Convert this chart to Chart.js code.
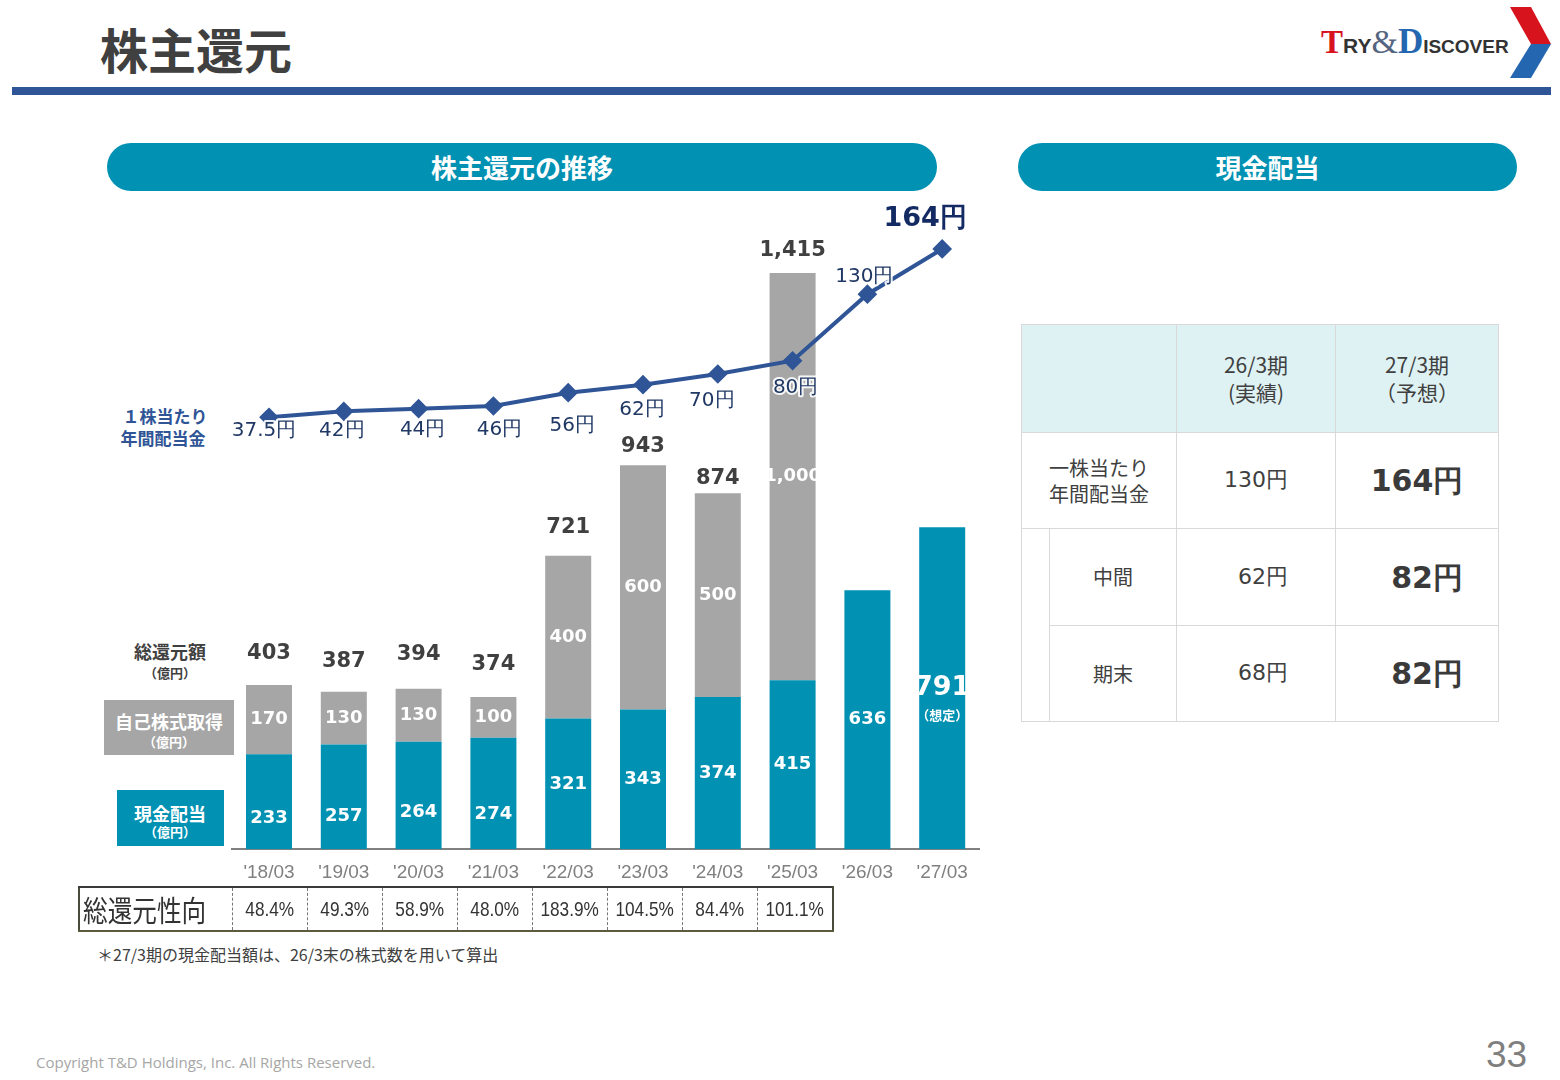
<!DOCTYPE html>
<html>
<head>
<meta charset="utf-8">
<script src="https://cdn.jsdelivr.net/npm/chart.js@4.4.1/dist/chart.umd.min.js"></script>
<style>
  body { margin: 0; width: 1560px; height: 1080px; position: relative; background: #fff; overflow: hidden;
         font-family: "Noto Sans CJK JP", sans-serif; color: #404040; }
  .abs { position: absolute; }
  .pill { position: absolute; top: 143px; height: 48px; border-radius: 24px; background: #0091b3; color: #fff;
          font-weight: 700; font-size: 26px; line-height: 48px; text-align: center; }
  .ctext { position: absolute; transform: translate(-50%, -50%); white-space: nowrap; font-weight: 700; }
  #chartBox { position: absolute; left: 100px; top: 190px; width: 900px; height: 720px; }
  #payout { position: absolute; left: 78px; top: 886px; border-collapse: collapse; border: 2px solid #4a4a3a;
            border-top-color: #3a3a3a; border-bottom-color: #5c5c3c; }
  #payout td { height: 40px; padding: 0; text-align: center; font-family: "Liberation Sans", sans-serif;
               font-size: 21px; color: #333; border-left: 1px dashed #777; width: 74px; }
  #payout td span { display: inline-block; transform: scaleX(0.82); transform-origin: center; }
  #payout td.lbl { width: 152px; text-align: left; border-left: none; font-family: "Noto Sans CJK JP", sans-serif; }
  #payout td.lbl span { font-size: 29px; transform: scaleX(0.85); transform-origin: left center; margin-left: 3px; }
  #divTable { position: absolute; left: 1021px; top: 324px; border-collapse: collapse; border: 1px solid #d9d9d9; }
  #divTable td { border: 1px solid #d9d9d9; text-align: center; padding: 0; color: #404040; font-size: 20px; line-height: 1.3; }
  #divTable tr.head td { background: #dff2f3; height: 107px; font-size: 21px; }
  #divTable td.big { font-family: "DejaVu Sans", sans-serif; font-weight: 700; font-size: 30px; color: #3a3a3a; }
  #divTable td.num { font-family: "DejaVu Sans", sans-serif; font-size: 22px; }
</style>
</head>
<body>
<div class="abs" style="left:100px;top:19px;font-size:48px;font-weight:700;color:#404040;line-height:58px;">株主還元</div>
<div class="abs" style="left:12px;top:87px;width:1539px;height:8px;background:#2f5597;"></div>

<!-- logo -->
<div class="abs" style="left:1321px;top:22px;height:40px;white-space:nowrap;font-weight:700;color:#333;">
  <span style="font-family:'Liberation Serif',serif;font-size:33px;color:#d7141e;">T</span><span style="font-family:'Liberation Sans',sans-serif;font-size:21px;">RY</span><span style="font-family:'Liberation Serif',serif;font-weight:400;font-size:34px;color:#55657f;">&amp;</span><span style="font-family:'Liberation Serif',serif;font-size:35px;color:#2566b0;">D</span><span style="font-family:'Liberation Sans',sans-serif;font-size:19px;">ISCOVER</span>
</div>
<svg class="abs" style="left:1500px;top:0" width="60" height="90">
  <polygon points="10,7 31,7 51,44 31,44" fill="#d7141e"/>
  <polygon points="31,44 51,44 31,78 10,78" fill="#2566b0"/>
</svg>

<div class="pill" style="left:107px;width:830px;">株主還元の推移</div>
<div class="pill" style="left:1018px;width:499px;">現金配当</div>

<!-- left legend -->
<div class="ctext" style="left:165px;top:415px;font-size:17px;color:#2f5597;">１株当たり</div>
<div class="ctext" style="left:163px;top:437px;font-size:17px;color:#2f5597;">年間配当金</div>
<div class="ctext" style="left:170px;top:651px;font-size:18px;color:#404040;">総還元額</div>
<div class="ctext" style="left:170px;top:672px;font-size:13px;color:#404040;">（億円）</div>
<div class="abs" style="left:104px;top:700px;width:130px;height:55px;background:#a6a6a6;"></div>
<div class="ctext" style="left:169px;top:721px;font-size:18px;color:#fff;">自己株式取得</div>
<div class="ctext" style="left:169px;top:741px;font-size:13px;color:#fff;">（億円）</div>
<div class="abs" style="left:117px;top:790px;width:107px;height:56px;background:#0091b3;"></div>
<div class="ctext" style="left:170px;top:813px;font-size:18px;color:#fff;">現金配当</div>
<div class="ctext" style="left:170px;top:831px;font-size:13px;color:#fff;">（億円）</div>

<div id="chartBox"><canvas id="combo"></canvas></div>

<table id="payout"><tr id="payoutRow"><td class="lbl"><span>総還元性向</span></td></tr></table>

<div class="abs" style="left:97px;top:942px;font-size:16px;color:#404040;">＊27/3期の現金配当額は、26/3末の株式数を用いて算出</div>

<table id="divTable">
  <tr class="head">
    <td colspan="2" style="width:154px;"></td>
    <td style="width:158px;">26/3期<br>(実績)</td>
    <td style="width:162px;">27/3期<br>（予想）</td>
  </tr>
  <tr style="height:96px;">
    <td colspan="2">一株当たり<br>年間配当金</td>
    <td class="num">130円</td>
    <td class="big">164円</td>
  </tr>
  <tr style="height:97px;">
    <td rowspan="2" style="width:27px;border-top:1px solid #d9d9d9;border-bottom:none;"></td>
    <td style="width:126px;">中間</td>
    <td class="num" style="padding-left:14px;">62円</td>
    <td class="big" style="padding-left:20px;">82円</td>
  </tr>
  <tr style="height:96px;">
    <td style="width:126px;">期末</td>
    <td class="num" style="padding-left:14px;">68円</td>
    <td class="big" style="padding-left:20px;">82円</td>
  </tr>
</table>

<div class="abs" style="left:36px;top:1052px;font-family:'Open Sans',sans-serif;font-size:15px;color:#a6a6a6;">Copyright T&amp;D Holdings, Inc. All Rights Reserved.</div>
<div class="abs" style="left:1486px;top:1034px;font-family:'Liberation Sans',sans-serif;font-size:37px;color:#7f7f7f;">33</div>

<script>
const periods = ["'18/03", "'19/03", "'20/03", "'21/03", "'22/03", "'23/03", "'24/03", "'25/03", "'26/03", "'27/03"];
const cashDividend = [233, 257, 264, 274, 321, 343, 374, 415, 636, 791];   // 億円
const buyback = [170, 130, 130, 100, 400, 600, 500, 1000, null, null];      // 億円
const totalReturn = [403, 387, 394, 374, 721, 943, 874, 1415, null, null];  // 億円
const dps = [37.5, 42, 44, 46, 56, 62, 70, 80, 130, 164];                   // 円
const payoutRatio = ['48.4%', '49.3%', '58.9%', '48.0%', '183.9%', '104.5%', '84.4%', '101.1%'];

// label nudges (px) so text sits where the slide has it
const dpsLabelDx = [-5, -2, 4, 6, 4, -1, -6, 3, -3, -17];
const dpsLabelDy = [14, 19, 21, 24, 33, 25, 27, 27, -17, -30];
const cashLabelDy = [17, 19, 17, 21, 0, 0, 0, 0, 0, 0];
const totalLabelDy = [-32, -30, -34, -32, -28, -19, -15, -23];

const row = document.getElementById('payoutRow');
payoutRatio.forEach(p => {
  const td = document.createElement('td');
  const sp = document.createElement('span');
  sp.textContent = p;
  td.appendChild(sp);
  row.appendChild(td);
});

const TEAL = '#0091b3';
const GRAY = '#a6a6a6';
const NAVY = '#2f5597';

const valueLabels = {
  id: 'valueLabels',
  afterDatasetsDraw(chart) {
    const ctx = chart.ctx;
    const cash = chart.getDatasetMeta(0).data;
    const buy = chart.getDatasetMeta(1).data;
    const line = chart.getDatasetMeta(2).data;
    ctx.save();
    ctx.textAlign = 'center';
    ctx.textBaseline = 'middle';

    cash.forEach((bar, i) => {
      const cy = (bar.y + bar.base) / 2 + cashLabelDy[i];
      ctx.fillStyle = '#fff';
      if (i === cash.length - 1) {
        ctx.font = 'bold 27px "DejaVu Sans"';
        ctx.fillText(cashDividend[i], bar.x, cy);
        ctx.font = 'bold 13px "Noto Sans CJK JP"';
        ctx.fillText('（想定）', bar.x, cy + 27);
      } else {
        ctx.font = 'bold 18px "DejaVu Sans"';
        ctx.fillText(cashDividend[i], bar.x, cy);
      }
    });

    buy.forEach((bar, i) => {
      if (buyback[i] == null) return;
      ctx.fillStyle = '#fff';
      ctx.font = 'bold 18px "DejaVu Sans"';
      ctx.fillText(buyback[i].toLocaleString('en-US'), bar.x, (bar.y + bar.base) / 2);
      ctx.fillStyle = '#404040';
      ctx.font = 'bold 21px "DejaVu Sans"';
      ctx.fillText(totalReturn[i].toLocaleString('en-US'), bar.x, bar.y + totalLabelDy[i]);
    });

    line.forEach((pt, i) => {
      const last = i === line.length - 1;
      ctx.font = last ? 'bold 27px "DejaVu Sans"' : '20px "DejaVu Sans"';
      const txt = dps[i] + '円';
      const x = pt.x + dpsLabelDx[i], y = pt.y + dpsLabelDy[i];
      ctx.lineWidth = 4;
      ctx.strokeStyle = 'rgba(255,255,255,0.9)';
      ctx.lineJoin = 'round';
      ctx.strokeText(txt, x, y);
      ctx.fillStyle = last ? '#132a63' : '#203864';
      ctx.fillText(txt, x, y);
    });
    ctx.restore();
  }
};

new Chart(document.getElementById('combo'), {
  type: 'bar',
  data: {
    labels: periods,
    datasets: [
      { label: '現金配当', data: cashDividend, backgroundColor: TEAL, order: 1,
        categoryPercentage: 1, barPercentage: 0.615 },
      { label: '自己株式取得', data: buyback, backgroundColor: GRAY, order: 1,
        categoryPercentage: 1, barPercentage: 0.615 },
      { type: 'line', label: '1株当たり年間配当金', data: dps, yAxisID: 'y2', order: 0,
        borderColor: NAVY, borderWidth: 4, pointStyle: 'rectRot', pointRadius: 7,
        pointBackgroundColor: NAVY, pointBorderColor: NAVY, tension: 0 }
    ]
  },
  options: {
    responsive: true,
    maintainAspectRatio: false,
    animation: false,
    layout: { padding: { left: 131.6, right: 20.4, top: 10, bottom: 14 } },
    plugins: { legend: { display: false }, tooltip: { enabled: false } },
    scales: {
      x: {
        stacked: true,
        grid: { display: false, drawTicks: false },
        border: { display: true, color: '#808080', width: 2 },
        ticks: { color: '#808080', padding: 12, font: { family: 'Liberation Sans', size: 19 } }
      },
      y: { stacked: true, display: false, min: 0, max: 1592 },
      y2: { display: false, min: -287, max: 200 }
    }
  },
  plugins: [valueLabels]
});
</script>
</body>
</html>
